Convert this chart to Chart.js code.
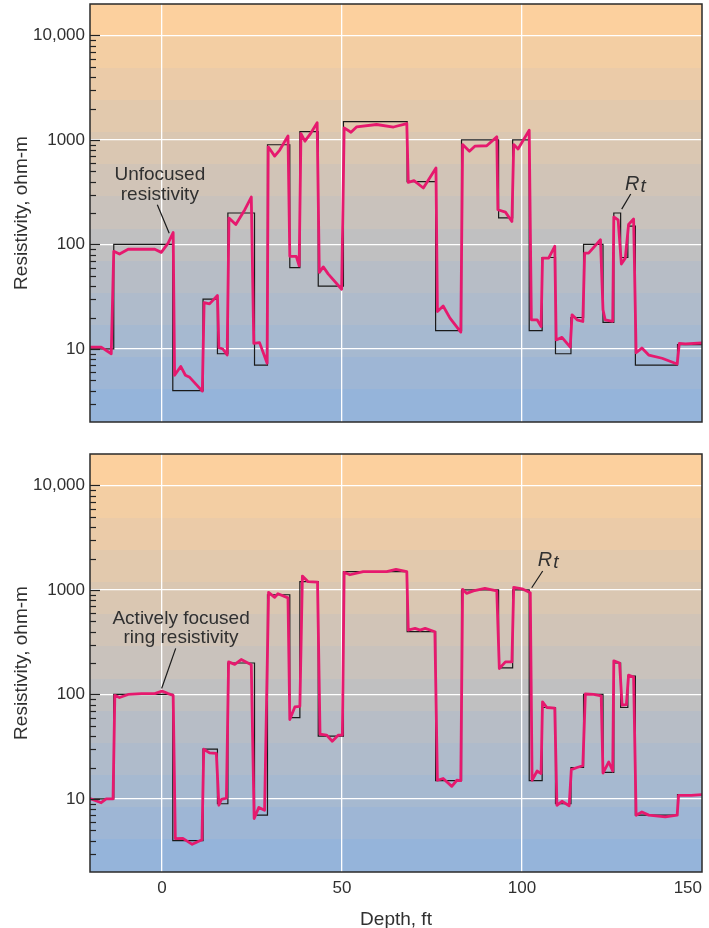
<!DOCTYPE html>
<html>
<head>
<meta charset="utf-8">
<script src="https://cdn.jsdelivr.net/npm/chart.js@4.4.1/dist/chart.umd.min.js"></script>
<style>
  html, body { margin: 0; padding: 0; background: #fff; }
  #wrap { position: relative; width: 709px; height: 928px; }
  canvas { position: absolute; left: 0; }
  #top { top: 0; }
  #bottom { top: 440px; }
</style>
</head>
<body>
<div id="wrap">
  <canvas id="top" width="709" height="440"></canvas>
  <canvas id="bottom" width="709" height="488"></canvas>
</div>
<script>
// axis ticks
const yTicks = [10, 100, 1000, 10000];
const yTickLabels = ["10", "100", "1000", "10,000"];
const xTicks = [-20, 0, 50, 100, 150];
const xTickLabels = ["", "0", "50", "100", "150"];

// true resistivity Rt, bed tops (ft) and values (ohm-m)
const bedTop = [-20, -13.4, 3.0, 11.4, 15.4, 18.3, 25.7, 29.3, 35.5, 38.3, 43.4, 50.4, 68.1, 76.0,
  83.2, 93.5, 97.4, 102.0, 105.6, 109.3, 113.6, 117.1, 122.5, 125.5, 127.4, 129.4, 131.5, 143.2];
const bedRes = [10, 100, 4, 30, 9, 200, 7, 900, 60, 1200, 40, 1500, 400, 15,
  1000, 180, 1000, 15, 75, 9, 20, 100, 18, 200, 75, 150, 7, 11];
const depthEnd = 150;

// unfocused resistivity log
const unfocDepth = [-20, -16.9, -14.1, -13.4, -11.8, -9.4, -2.0, -0.2, 1.7, 3.1, 3.5, 5.2, 6.5, 7.7, 11.2,
  11.7, 13.2, 15.4, 15.8, 16.9, 18.1, 18.6, 20.5, 23.0, 24.8, 25.5, 27.1, 29.2, 29.5, 31.3, 32.7, 35.0,
  35.5, 37.3, 38.1, 38.6, 39.7, 41.1, 43.1, 43.7, 44.8, 46.2, 49.9, 50.6, 52.5, 54.1, 59.6, 64.3, 68.0,
  68.4, 70.0, 72.6, 76.1, 76.5, 78.1, 80.0, 83.0, 83.5, 85.4, 86.9, 90.2, 93.0, 93.3, 95.4, 97.2, 97.7,
  98.9, 102.0, 102.6, 104.2, 105.3, 105.7, 107.4, 109.1, 109.5, 111.1, 113.4, 113.9, 115.3, 116.9, 117.4,
  118.5, 121.8, 122.5, 123.1, 125.2, 125.5, 126.7, 127.6, 128.7, 129.6, 131.0, 131.7, 133.3, 135.2,
  138.9, 143.1, 143.7, 145.4, 150];
const unfocRes = [10.4, 10.4, 9.0, 86, 81, 90, 90, 84, 103, 130, 5.6, 6.8, 5.6, 5.35, 3.95,
  27.8, 27, 32.5, 10.3, 10, 8.75, 179, 155, 215, 284, 11.3, 11.5, 7.3, 860, 700, 800, 1090,
  77, 77, 62.5, 1150, 973, 1130, 1460, 54, 61, 52, 37.3, 1306, 1186, 1335, 1406, 1330, 1436,
  393, 408, 347, 540, 22.8, 25.8, 19.7, 14.5, 904, 780, 871, 880, 1071, 215, 204, 166, 904,
  820, 1240, 19, 19, 16.4, 74, 74, 96, 12.2, 12.9, 10.4, 21.2, 19, 18.3, 82.6,
  82.6, 111, 23.7, 19, 18.4, 183, 172, 65, 74, 155, 175, 9.2, 10.2, 8.75,
  8.15, 7.18, 11.3, 11.2, 11.4];

// actively focused ring resistivity log
const focDepth = [-20, -16.9, -15.5, -13.6, -13.1, -11.8, -9.4, -5.7, -2.0, 0, 1.7, 3.1, 3.7, 5.8, 8.4,
  11.1, 11.6, 13.2, 15.1, 15.8, 16.5, 17.9, 18.5, 20.2, 22.0, 24.8, 25.6, 26.9, 28.5, 29.6, 31.3, 32.2,
  35.0, 35.5, 36.9, 38.3, 39.0, 40.6, 43.2, 43.9, 45.7, 47.3, 49.0, 50.1, 50.6, 52.2, 55.9, 62.4, 65.0,
  68.0, 68.4, 70.3, 71.7, 73.1, 75.8, 76.5, 78.1, 80.5, 81.9, 83.0, 83.5, 84.6, 86.5, 89.7, 93.0, 93.7,
  95.4, 97.2, 97.7, 100, 102.3, 102.8, 104.2, 105.3, 105.7, 106.9, 109.1, 109.7, 111.1, 113.1, 113.7,
  115.3, 116.9, 117.6, 119.9, 122.0, 122.5, 124.1, 125.2, 125.5, 127.1, 127.8, 129.0, 129.6, 131.0,
  131.7, 133.3, 135.2, 139.8, 143.1, 143.5, 147, 150];
const focRes = [10.1, 9.2, 10, 10, 98, 93.5, 100, 102, 102, 107.6, 102, 98, 4.17, 4.2, 3.68,
  4.07, 29.9, 27.6, 27.3, 8.7, 9.9, 10.2, 205, 194, 216, 192, 6.5, 8.3, 7.8, 948, 849, 920,
  840, 57.6, 76, 77, 1358, 1200, 1190, 41.7, 40.9, 35.7, 40.9, 40.9, 1476, 1398, 1500, 1500, 1573,
  1500, 413, 429, 413, 429, 398, 15.1, 15.7, 13.2, 15.1, 15, 1014, 927, 980, 1036, 980, 177,
  205, 205, 1060, 1025, 940, 15.1, 18.5, 17.5, 85, 75, 74, 8.7, 9.5, 8.6, 19.1,
  20, 20.8, 101, 100, 97, 17.7, 22.6, 18.5, 210, 200, 79, 80, 153, 147,
  6.98, 7.5, 7.0, 6.73, 7.0, 10.8, 10.8, 11];

const font = '"Liberation Sans", Arial, Helvetica, sans-serif';
const textColor = "#303030";
const pink = "#e6196e";
const bgTop = [252, 208, 158];
const bgBottom = [149, 180, 218];

// labels and leader lines, in data units
const topNotes = {
  lines: ["Unfocused", "resistivity"],
  at: [[-0.6, 417], [-0.6, 268]],
  leader: [[-1.3, 240], [2.0, 128]],
  rt: [128.6, 334],
  rtLeader: [[130.2, 304], [127.7, 218]]
};
const bottomNotes = {
  lines: ["Actively focused", "ring resistivity"],
  at: [[5.3, 471], [5.3, 310]],
  leader: [[3.8, 276], [-0.1, 114]],
  rt: [104.4, 1694],
  rtLeader: [[105.75, 1517], [102.7, 1050]]
};

function stepPoints() {
  const pts = bedTop.map((d, i) => ({ x: d, y: bedRes[i] }));
  pts.push({ x: depthEnd, y: bedRes[bedRes.length - 1] });
  return pts;
}

function curvePoints(depths, vals) {
  return depths.map((d, i) => ({ x: d, y: vals[i] }));
}

function line(ctx, x, y, p, q) {
  ctx.beginPath();
  ctx.moveTo(x.getPixelForValue(p[0]), y.getPixelForValue(p[1]));
  ctx.lineTo(x.getPixelForValue(q[0]), y.getPixelForValue(q[1]));
  ctx.stroke();
}

const frame = {
  id: "frame",
  beforeDraw(chart) {
    const { ctx, chartArea: a } = chart;
    const n = 13;
    const h = (a.bottom - a.top) / n;
    ctx.save();
    ctx.beginPath();
    ctx.rect(a.left, a.top, a.right - a.left, a.bottom - a.top);
    ctx.clip();
    for (let i = 0; i < n; i++) {
      const t = i / (n - 1);
      const c = bgTop.map((v, k) => Math.round(v + (bgBottom[k] - v) * t));
      ctx.fillStyle = "rgb(" + c.join(",") + ")";
      ctx.fillRect(a.left, Math.floor(a.top + i * h), a.right - a.left, Math.ceil(h) + 1);
    }
    ctx.restore();
  },
  afterDraw(chart, args, opts) {
    const { ctx, chartArea: a } = chart;
    const x = chart.scales.x, y = chart.scales.y;
    ctx.save();
    // inner ticks on the log axis
    ctx.strokeStyle = "#222";
    ctx.lineWidth = 1.2;
    [1, 10, 100, 1000, 10000].forEach(d => {
      for (let m = 1; m <= 9; m++) {
        const v = d * m;
        if (v <= y.min || v >= y.max) continue;
        const py = Math.round(y.getPixelForValue(v)) + 0.5;
        ctx.beginPath();
        ctx.moveTo(a.left, py);
        ctx.lineTo(a.left + (m === 1 ? 10 : 6), py);
        ctx.stroke();
      }
    });
    // frame
    ctx.strokeStyle = "#2a2a2a";
    ctx.lineWidth = 1.5;
    ctx.strokeRect(a.left, a.top, a.right - a.left, a.bottom - a.top);

    // notes
    const n = opts.notes;
    if (!n) { ctx.restore(); return; }
    ctx.fillStyle = textColor;
    ctx.textAlign = "center";
    ctx.textBaseline = "alphabetic";
    ctx.font = "19px " + font;
    n.lines.forEach((t, i) => {
      ctx.fillText(t, x.getPixelForValue(n.at[i][0]), y.getPixelForValue(n.at[i][1]));
    });
    ctx.strokeStyle = "#1a1a1a";
    ctx.lineWidth = 1.2;
    line(ctx, x, y, n.leader[0], n.leader[1]);
    line(ctx, x, y, n.rtLeader[0], n.rtLeader[1]);
    const rx = x.getPixelForValue(n.rt[0]);
    const ry = y.getPixelForValue(n.rt[1]);
    ctx.textAlign = "left";
    ctx.font = "italic 20px " + font;
    ctx.fillText("R", rx, ry);
    const w = ctx.measureText("R").width;
    ctx.font = "italic 19px " + font;
    ctx.fillText("t", rx + w + 1, ry + 2);
    ctx.restore();
  }
};

function makeChart(id, curve, notes, showX) {
  return new Chart(document.getElementById(id), {
    type: "line",
    data: {
      datasets: [
        {
          data: curve,
          borderColor: pink,
          borderWidth: 2.8,
          pointRadius: 0,
          tension: 0,
          borderJoinStyle: "round",
          borderCapStyle: "round",
          order: 0
        },
        {
          data: stepPoints(),
          borderColor: "#1a1a1a",
          borderWidth: 1.2,
          pointRadius: 0,
          stepped: "before",
          order: 1
        }
      ]
    },
    options: {
      responsive: false,
      animation: false,
      layout: { padding: { top: showX ? 14 : 4, right: 7, left: 0, bottom: 0 } },
      plugins: {
        legend: { display: false },
        tooltip: { enabled: false },
        frame: { notes: notes }
      },
      scales: {
        x: {
          type: "linear",
          min: -20,
          max: 150,
          afterBuildTicks: s => { s.ticks = xTicks.map(v => ({ value: v })); },
          afterFit: s => { s.height = showX ? 56 : 18; s.paddingLeft = 0; s.paddingRight = 0; },
          grid: {
            color: c => (c.index > 0 && c.index < xTicks.length - 1) ? "#fff" : "rgba(0,0,0,0)",
            lineWidth: 1.3,
            drawTicks: false
          },
          border: { display: false },
          ticks: {
            display: showX,
            align: "inner",
            padding: 6,
            color: textColor,
            font: { family: font, size: 17 },
            callback: (v, i) => xTickLabels[i]
          },
          title: {
            display: showX,
            text: "Depth, ft",
            color: textColor,
            font: { family: font, size: 19 },
            padding: { top: 0, bottom: -3 }
          }
        },
        y: {
          type: "logarithmic",
          min: 2,
          max: 20000,
          afterBuildTicks: s => { s.ticks = yTicks.map(v => ({ value: v })); },
          afterFit: s => { s.width = 90; s.paddingTop = 0; s.paddingBottom = 0; },
          grid: { color: "#fff", lineWidth: 1.3, drawTicks: false },
          border: { display: false },
          ticks: {
            padding: 5,
            color: textColor,
            font: { family: font, size: 17 },
            callback: (v, i) => yTickLabels[i]
          },
          title: {
            display: true,
            text: "Resistivity, ohm-m",
            color: textColor,
            font: { family: font, size: 19 },
            padding: { top: 10, bottom: 0 }
          }
        }
      }
    },
    plugins: [frame]
  });
}

makeChart("top", curvePoints(unfocDepth, unfocRes), topNotes, false);
makeChart("bottom", curvePoints(focDepth, focRes), bottomNotes, true);
</script>
</body>
</html>
